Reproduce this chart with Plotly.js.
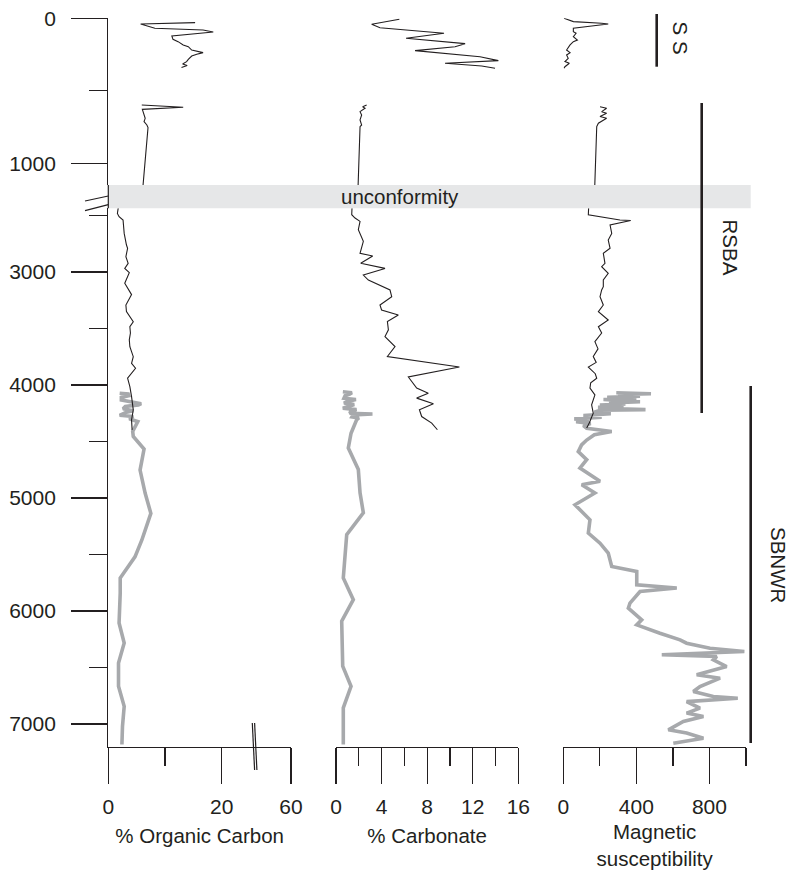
<!DOCTYPE html>
<html>
<head>
<meta charset="utf-8">
<script src="https://cdn.plot.ly/plotly-3.0.1.min.js"></script>
<style>html,body{margin:0;padding:0;background:#fff;}#chart{width:790px;height:870px;}</style>
</head>
<body>
<div id="chart"></div>
<script>
// ---------- DATA (depth, value) ----------
// % Organic Carbon
const ocSSDepth  = [30,39,69,81,94,122,145,161,184,196,219,230,237,248,260,283,299,315,325,340];
const ocSSVal    = [15.3,5.7,8.2,16.7,18.5,11.2,11.4,12.3,13.2,14.1,14.7,15.8,16.7,15.6,14.7,14.1,13.8,13.1,13.9,12.9];
const ocRSBADepth = [598,614,628,655,690,713,736,754,2481,2510,2540,2658,2761,2790,2864,2923,2968,3006,3100,3200,3292,3351,3440,3484,3540,3600,3661,3749,3808,3852,3940,4014,4103,4220,4309,4397];
const ocRSBAVal   = [5.9,13.2,6.0,6.2,6.5,6.3,6.8,7.0,1.6,1.9,2.6,2.8,3.2,3.4,3.1,3.5,2.9,3.7,2.9,4.1,3.1,3.2,4.4,3.8,3.9,3.7,3.8,4.4,4.1,4.8,3.4,3.8,4.1,4.4,4.1,4.2];
const ocSBDepth = [4073,4080,4095,4110,4133,4147,4165,4176,4190,4210,4228,4240,4268,4279,4300,4314,4324,4410,4456,4567,4753,4959,5136,5374,5521,5708,5841,6106,6283,6460,6667,6844,7021,7182];
const ocSBVal   = [2.0,3.5,3.6,2.3,2.3,4.1,5.8,5.3,3.0,2.6,4.4,3.2,2.0,4.4,3.7,4.6,5.2,4.3,4.4,6.3,5.6,6.5,7.5,5.9,4.7,2.1,2.1,1.9,2.8,1.8,1.8,2.8,2.5,2.4];

// % Carbonate
const caSSDepth = [7,41,65,85,103,138,175,196,223,265,292,310,329,345];
const caSSVal   = [5.56,3.13,3.86,6.5,9.48,6.15,11.33,10.45,6.94,12.64,14.25,9.57,12.79,13.96];
const caRSBADepth = [598,610,621,644,667,701,736,748,2493,2522,2552,2625,2729,2834,2858,2923,2968,3027,3071,3125,3159,3218,3292,3336,3380,3439,3512,3571,3660,3748,3841,3929,4027,4072,4116,4166,4219,4279,4337,4396];
const caRSBAVal   = [2.69,2.34,2.55,2.11,2.25,2.11,2.25,2.11,1.38,1.67,2.11,1.96,2.4,2.11,3.22,2.17,4.3,2.4,2.84,4.0,4.74,4.89,3.86,4.0,5.47,4.51,4.6,4.3,5.18,4.51,10.83,6.35,7.08,8.1,7.08,8.55,7.32,7.52,8.4,8.9];
const caSBDepth = [4060,4068,4080,4095,4117,4128,4145,4160,4172,4190,4206,4218,4235,4250,4256,4265,4282,4292,4310,4427,4557,4748,4955,5131,5325,5708,5900,6091,6489,6667,6858,7182];
const caSBVal   = [0.6,1.4,1.2,0.8,0.7,1.75,1.0,0.7,1.6,1.0,0.6,1.8,1.3,1.2,3.2,1.5,1.4,2.0,1.8,1.32,1.08,1.96,2.11,2.4,0.94,0.64,1.52,0.5,0.59,1.32,0.64,0.64];

// Magnetic susceptibility
const msSSDepth = [0,23,34,39,46,69,92,103,127,150,161,184,219,237,253,276,299,310,334,345];
const msSSVal   = [4,55,210,246,201,55,55,70,55,77,55,37,18,37,18,27,9,33,9,4];
const msRSBADepth = [610,621,644,655,678,690,724,747,2493,2540,2544,2584,2658,2717,2790,2834,2923,2953,3012,3071,3130,3159,3218,3292,3351,3425,3484,3540,3616,3680,3748,3800,3841,3900,3940,3980,4027,4087,4175,4249,4337,4381];
const msRSBAVal   = [201,237,210,237,201,237,192,183,137,310,369,256,265,246,256,219,228,210,246,219,219,210,201,219,192,246,192,210,173,190,164,180,137,175,183,150,146,173,155,164,142,128];
const msSBDepth = [4068,4072,4078,4083,4090,4100,4108,4118,4128,4138,4148,4158,4168,4178,4188,4198,4210,4218,4224,4240,4255,4270,4285,4300,4312,4325,4340,4360,4383,4412,4440,4487,4530,4590,4660,4735,4852,4882,4956,5060,5193,5311,5400,5488,5606,5650,5768,5797,5828,5930,5975,6079,6123,6197,6256,6285,6330,6359,6388,6403,6433,6492,6565,6595,6669,6713,6757,6772,6802,6860,6904,6934,6978,7052,7081,7126,7170];
const msSBVal   = [290,470,480,320,300,420,240,400,220,330,420,250,340,200,330,190,300,450,200,170,260,110,210,60,140,70,150,110,128,265,170,128,100,82,128,91,201,101,173,64,146,137,201,246,265,402,402,621,420,365,356,429,402,529,639,675,803,991,539,840,821,894,730,858,748,712,821,955,675,748,675,767,657,575,675,767,602];

// tick labels
const ocTickVals = [0,20,32.2], ocTickText = ['0','20','60'];
const caTickVals = [0,4,8,12,16];
const msTickVals = [0,400,800];
const yUpTicks = [0,1000], yLowTicks = [3000,4000,5000,6000,7000];

// ---------- STYLE / LAYOUT ----------
const W = 790, H = 870;
const px = v => v / W, py = v => 1 - v / H;
const INK = '#231f20', GREY = '#a7a9ac', BAND = '#e6e7e8';
const FONT = 'Liberation Sans, Arial, Helvetica, sans-serif';

function line(xs, ys, xa, ya, color, width) {
  return {type:'scatter', mode:'lines', x:xs, y:ys, xaxis:xa, yaxis:ya,
          line:{color:color, width:width}, hoverinfo:'skip'};
}
const data = [
  line(ocSBVal, ocSBDepth, 'x', 'y2', GREY, 3.6),
  line(caSBVal, caSBDepth, 'x2', 'y2', GREY, 3.6),
  line(msSBVal, msSBDepth, 'x3', 'y2', GREY, 3.6),
  line(ocRSBAVal, ocRSBADepth, 'x', 'y2', INK, 1.1),
  line(caRSBAVal, caRSBADepth, 'x2', 'y2', INK, 1.1),
  line(msRSBAVal, msRSBADepth, 'x3', 'y2', INK, 1.1),
  line(ocSSVal, ocSSDepth, 'x4', 'y', INK, 1.1),
  line(caSSVal, caSSDepth, 'x5', 'y', INK, 1.1),
  line(msSSVal, msSSDepth, 'x6', 'y', INK, 1.1),
  line(ocRSBAVal, ocRSBADepth, 'x4', 'y', INK, 1.1),
  line(caRSBAVal, caRSBADepth, 'x5', 'y', INK, 1.1),
  line(msRSBAVal, msRSBADepth, 'x6', 'y', INK, 1.1)
];

const ocDom = [px(108.3), px(291)], caDom = [px(336), px(518.3)], msDom = [px(563.3), px(746)];
const upDom = [py(185), py(18.3)], lowDom = [py(747), py(208.3)];

function xAx(dom, range, tickvals, minorvals, title, ticktext) {
  const a = {domain:dom, range:range, anchor:'y2', showline:true, linecolor:INK, linewidth:1.2,
    ticks:'outside', ticklen:36, tickwidth:1.2, tickcolor:INK, tickmode:'array', tickvals:tickvals,
    ticklabelstandoff:5,
    minor:{tickmode:'array', tickvals:minorvals, ticks:'outside', ticklen:18, tickwidth:1.2, tickcolor:INK, showgrid:false},
    showgrid:false, zeroline:false, fixedrange:true,
    tickfont:{size:21, color:INK, family:FONT},
    title:{text:title, font:{size:20.5, color:INK, family:FONT}, standoff:11}};
  if (ticktext) a.ticktext = ticktext;
  return a;
}
function hidden(dom, range) {
  return {domain:dom, range:range, anchor:'y', visible:false, fixedrange:true};
}
function yAx(dom, range, anchor, tickvals, minorvals) {
  return {domain:dom, range:range, anchor:anchor, showline:true, linecolor:INK, linewidth:1.2,
    ticks:'outside', ticklen:36, tickwidth:1.2, tickcolor:INK, tickmode:'array', tickvals:tickvals,
    ticklabelstandoff:11,
    minor:{tickmode:'array', tickvals:minorvals, ticks:'outside', ticklen:18, tickwidth:1.2, tickcolor:INK, showgrid:false},
    showgrid:false, zeroline:false, fixedrange:true,
    tickfont:{size:21, color:INK, family:FONT}};
}

const ln = (x0,y0,x1,y1,w,c) => ({type:'line', xref:'paper', yref:'paper', x0:px(x0), y0:py(y0), x1:px(x1), y1:py(y1), line:{color:c||INK, width:w||1.2}, layer:'above'});

const layout = {
  width:W, height:H, margin:{l:0,r:0,t:0,b:0},
  paper_bgcolor:'#ffffff', plot_bgcolor:'rgba(0,0,0,0)', showlegend:false,
  font:{family:FONT, color:INK, size:20},
  xaxis: xAx(ocDom, [0,32.2], ocTickVals, [10], '% Organic Carbon', ocTickText),
  xaxis2: xAx(caDom, [0,16], caTickVals, [2,6,10,14], '% Carbonate'),
  xaxis3: xAx(msDom, [0,1000], msTickVals, [200,600,1000], 'Magnetic<br>susceptibility'),
  xaxis4: hidden(ocDom, [0,32.2]),
  xaxis5: hidden(caDom, [0,16]),
  xaxis6: hidden(msDom, [0,1000]),
  yaxis: yAx(upDom, [1150,0], 'x4', yUpTicks, [500]),
  yaxis2: yAx(lowDom, [7204,2436], 'x', yLowTicks, [2500,3500,4500,5500,6500]),
  shapes: [
    {type:'rect', xref:'paper', yref:'paper', x0:px(108.3), x1:px(750.7), y0:py(208.3), y1:py(185), fillcolor:BAND, line:{width:0}, layer:'above'},
    ln(108.3,185,108.3,208.3,1.2),
    ln(85,201,108.3,196,1.2), ln(85,210.7,108.3,204.7,1.2),
    ln(252.3,723,254.6,770,1.2), ln(254.6,723,256.9,770,1.2),
    ln(656.7,14,656.7,66.7,2.6), ln(701.7,103,701.7,413,2.6), ln(750.7,386,750.7,743,2.6)
  ],
  annotations: [
    {text:'unconformity', xref:'paper', yref:'paper', x:px(400), y:py(196.7), showarrow:false, font:{size:20.5, color:INK, family:FONT}, xanchor:'center', yanchor:'middle'},
    {text:'S S', xref:'paper', yref:'paper', x:px(680.7), y:py(38.3), showarrow:false, textangle:90, font:{size:20.5, color:INK, family:FONT}, xanchor:'center', yanchor:'middle'},
    {text:'RSBA', xref:'paper', yref:'paper', x:px(730), y:py(247.5), showarrow:false, textangle:90, font:{size:20.5, color:INK, family:FONT}, xanchor:'center', yanchor:'middle'},
    {text:'SBNWR', xref:'paper', yref:'paper', x:px(779), y:py(565), showarrow:false, textangle:90, font:{size:20.5, color:INK, family:FONT}, xanchor:'center', yanchor:'middle'}
  ]
};

Plotly.newPlot('chart', data, layout, {staticPlot:true, displayModeBar:false});
</script>
</body>
</html>
